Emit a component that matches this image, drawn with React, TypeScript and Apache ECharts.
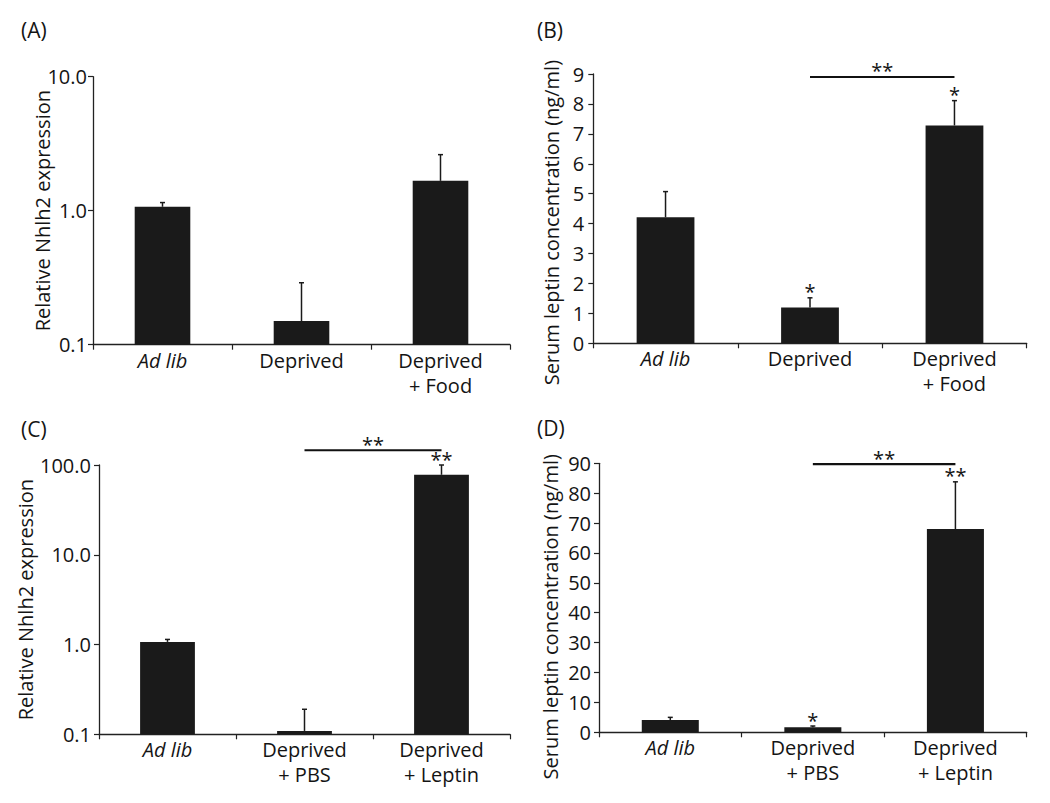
import React, { useEffect, useRef } from "react";
import * as echarts from "echarts";

// ---------- data ----------
const categoriesTop = ["Ad lib", "Deprived", "Deprived\n+ Food"];
const categoriesBottom = ["Ad lib", "Deprived\n+ PBS", "Deprived\n+ Leptin"];

// (A) Relative Nhlh2 expression (log)
const meanA = [1.07, 0.15, 1.67];
const errTopA = [1.15, 0.29, 2.62];
const starsA = ["", "", ""];

// (B) Serum leptin (ng/ml)
const meanB = [4.21, 1.2, 7.28];
const errTopB = [5.07, 1.52, 8.11];
const starsB = ["", "*", "*"];
const bracketB = [1, 2, 8.9];

// (C) Relative Nhlh2 expression (log)
const meanC = [1.07, 0.109, 77.8];
const errTopC = [1.14, 0.19, 100];
const starsC = ["", "", "**"];
const bracketC = [1, 2, 146];

// (D) Serum leptin (ng/ml)
const meanD = [4.1, 1.7, 68];
const errTopD = [5.0, 2.1, 83.8];
const starsD = ["", "*", "**"];
const bracketD = [1, 2, 89.7];

const logTicksLabel = (v: number) => Number(v).toFixed(1);

// ---------- styling ----------
const FONT = '"Open Sans", "Noto Sans", sans-serif';
const INK = "#1a1a1a";
const TEXT = "#141414";

function starStyle(text: string) {
  return {
    text,
    fill: TEXT,
    font: `20px ${FONT}`,
    lineHeight: 14,
    align: "center",
    verticalAlign: "middle",
    textAlign: "center",
    textVerticalAlign: "middle",
  };
}

function barRender(base: number, stars: string[]) {
  return (params: any, api: any) => {
    const i = api.value(0);
    const v = api.value(1);
    const e = api.value(2);
    const cs = params.coordSys;
    const bw = (cs.width / 3) * 0.4;
    const p = api.coord([i, v]);
    const b = api.coord([i, base]);
    const t = api.coord([i, e]);
    const children: any[] = [
      {
        type: "rect",
        shape: { x: p[0] - bw / 2, y: p[1], width: bw, height: b[1] - p[1] },
        style: { fill: INK },
      },
      {
        type: "line",
        shape: { x1: p[0], y1: p[1], x2: p[0], y2: t[1] },
        style: { stroke: INK, lineWidth: 1.5 },
      },
      {
        type: "line",
        shape: { x1: p[0] - 2.5, y1: t[1], x2: p[0] + 2.5, y2: t[1] },
        style: { stroke: INK, lineWidth: 1.5 },
      },
    ];
    const s = stars[params.dataIndex];
    if (s) {
      children.push({ type: "text", x: p[0], y: t[1] - 6, style: starStyle(s) });
    }
    return { type: "group", children };
  };
}

function bracketRender(label: string) {
  return (params: any, api: any) => {
    const a = api.coord([api.value(0), api.value(2)]);
    const b = api.coord([api.value(1), api.value(2)]);
    return {
      type: "group",
      children: [
        {
          type: "line",
          shape: { x1: a[0], y1: a[1], x2: b[0], y2: b[1] },
          style: { stroke: "#111", lineWidth: 2.2 },
        },
        { type: "text", x: (a[0] + b[0]) / 2, y: a[1] - 6, style: starStyle(label) },
      ],
    };
  };
}

const grids = [
  { left: 93, top: 76.7, width: 417, height: 268 },
  { left: 593.3, top: 74, width: 433.4, height: 269.3 },
  { left: 99, top: 465, width: 411, height: 269.3 },
  { left: 599, top: 463.3, width: 427.7, height: 269 },
];

function xAxisFor(idx: number, cats: string[]) {
  return {
    type: "category",
    gridIndex: idx,
    data: cats,
    boundaryGap: true,
    axisLine: { show: true, lineStyle: { color: "#222", width: 1.3 } },
    axisTick: { show: true, length: 5, lineStyle: { color: "#222", width: 1.2 } },
    axisLabel: {
      margin: 3,
      fontFamily: FONT,
      fontSize: 20,
      color: TEXT,
      lineHeight: 25,
      interval: 0,
      formatter: (v: string) => (v === "Ad lib" ? "{i|Ad lib}" : v),
      rich: {
        i: { fontStyle: "italic", fontFamily: FONT, fontSize: 20, color: TEXT, lineHeight: 25 },
      },
    },
    splitLine: { show: false },
  };
}

function yAxisCommon(idx: number, name: string, nameGap: number, labelMargin: number, pad: number) {
  return {
    gridIndex: idx,
    name,
    nameLocation: "middle",
    nameGap,
    nameMoveOverlap: false,
    nameTextStyle: {
      fontFamily: FONT,
      fontSize: 20,
      color: TEXT,
      padding: [0, pad, 0, 0],
    },
    axisLine: { show: true, lineStyle: { color: "#222", width: 1.3 } },
    axisTick: { show: true, length: 5, lineStyle: { color: "#222", width: 1.2 } },
    axisLabel: { margin: labelMargin, fontFamily: FONT, fontSize: 20, color: TEXT },
    splitLine: { show: false },
  };
}

const barData = (mean: number[], err: number[]) => mean.map((m, i) => [i, m, err[i]]);

export default function App() {
  const ref = useRef<HTMLDivElement>(null);
  useEffect(() => {
    if (!ref.current) return;
    const chart = echarts.init(ref.current, undefined, { renderer: "svg" });
    const option: any = {
      animation: false,
      backgroundColor: "#ffffff",
      textStyle: { fontFamily: FONT },
      grid: grids,
      xAxis: [
        xAxisFor(0, categoriesTop),
        xAxisFor(1, categoriesTop),
        xAxisFor(2, categoriesBottom),
        xAxisFor(3, categoriesBottom),
      ],
      yAxis: [
        {
          ...yAxisCommon(0, "Relative Nhlh2 expression", 41, 6, 0),
          type: "log",
          logBase: 10,
          min: 0.1,
          max: 10,
          axisLabel: { margin: 6, fontFamily: FONT, fontSize: 20, color: TEXT, formatter: logTicksLabel },
        },
        {
          ...yAxisCommon(1, "Serum leptin concentration (ng/ml)", 32, 9, 28),
          type: "value",
          min: 0,
          max: 9,
          interval: 1,
        },
        {
          ...yAxisCommon(2, "Relative Nhlh2 expression", 63.5, 8, 0),
          type: "log",
          logBase: 10,
          min: 0.1,
          max: 100,
          axisLabel: { margin: 8, fontFamily: FONT, fontSize: 20, color: TEXT, formatter: logTicksLabel },
        },
        {
          ...yAxisCommon(3, "Serum leptin concentration (ng/ml)", 39, 8, 38),
          type: "value",
          min: 0,
          max: 90,
          interval: 10,
        },
      ],
      series: [
        {
          type: "custom",
          xAxisIndex: 0,
          yAxisIndex: 0,
          clip: false,
          renderItem: barRender(0.1, starsA),
          data: barData(meanA, errTopA),
        },
        {
          type: "custom",
          xAxisIndex: 1,
          yAxisIndex: 1,
          clip: false,
          renderItem: barRender(0, starsB),
          data: barData(meanB, errTopB),
        },
        {
          type: "custom",
          xAxisIndex: 1,
          yAxisIndex: 1,
          clip: false,
          renderItem: bracketRender("**"),
          data: [bracketB],
        },
        {
          type: "custom",
          xAxisIndex: 2,
          yAxisIndex: 2,
          clip: false,
          renderItem: barRender(0.1, starsC),
          data: barData(meanC, errTopC),
        },
        {
          type: "custom",
          xAxisIndex: 2,
          yAxisIndex: 2,
          clip: false,
          renderItem: bracketRender("**"),
          data: [bracketC],
        },
        {
          type: "custom",
          xAxisIndex: 3,
          yAxisIndex: 3,
          clip: false,
          renderItem: barRender(0, starsD),
          data: barData(meanD, errTopD),
        },
        {
          type: "custom",
          xAxisIndex: 3,
          yAxisIndex: 3,
          clip: false,
          renderItem: bracketRender("**"),
          data: [bracketD],
        },
      ],
      graphic: [
        { type: "text", left: 21, top: 19, style: { text: "(A)", font: `21px ${FONT}`, fill: TEXT } },
        { type: "text", left: 537, top: 19, style: { text: "(B)", font: `21px ${FONT}`, fill: TEXT } },
        { type: "text", left: 21, top: 418, style: { text: "(C)", font: `21px ${FONT}`, fill: TEXT } },
        { type: "text", left: 537, top: 417, style: { text: "(D)", font: `21px ${FONT}`, fill: TEXT } },
      ],
    };
    chart.setOption(option);
    return () => chart.dispose();
  }, []);
  return (
    <div
      ref={ref}
      style={{ position: "absolute", left: 0, top: 0, width: 1050, height: 803, background: "#fff" }}
    />
  );
}
